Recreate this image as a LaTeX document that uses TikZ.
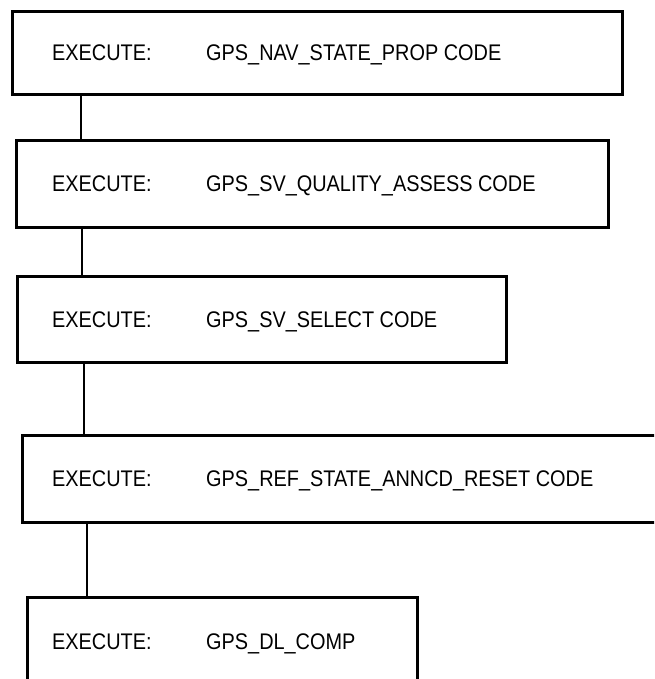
\documentclass[tikz,border=0pt]{standalone}
\usepackage{fontspec}
\setmainfont{Liberation Sans}[FakeStretch=0.88]
\usepackage{tikz}

\begin{document}
\begin{tikzpicture}[x=1pt, y=-1pt,
  execbox/.style={rectangle, draw=black, fill=white, line width=2.8pt, anchor=north west, inner sep=0pt},
  steptext/.style={anchor=base west, inner sep=0pt, yshift=-8pt, font=\fontsize{22.6}{26}\selectfont},
  link/.style={draw=black, line width=2.3pt}]
\clip (0,0) rectangle (654,679);
\fill[white] (0,0) rectangle (654,679);
\coordinate (lblx) at (52,0);
\coordinate (namex) at (206,0);

\node[execbox, minimum width=610pt, minimum height=83pt] (nav) at (11,10) {};
\node[execbox, minimum width=592pt, minimum height=87pt] (quality) at (15,139) {};
\node[execbox, minimum width=489pt, minimum height=86pt] (select) at (16,275) {};
\node[execbox, minimum width=659pt, minimum height=87pt] (reset) at (21,434) {};
\node[execbox, minimum width=390pt, minimum height=88pt] (dlcomp) at (26,596) {};

\node[steptext] (navlbl) at (nav.west -| lblx) {EXECUTE:};
\node[steptext] (navname) at (nav.west -| namex) {GPS\_NAV\_STATE\_PROP CODE};
\node[steptext] (qualitylbl) at (quality.west -| lblx) {EXECUTE:};
\node[steptext] (qualityname) at (quality.west -| namex) {GPS\_SV\_QUALITY\_ASSESS CODE};
\node[steptext] (selectlbl) at (select.west -| lblx) {EXECUTE:};
\node[steptext] (selectname) at (select.west -| namex) {GPS\_SV\_SELECT CODE};
\node[steptext] (resetlbl) at (reset.west -| lblx) {EXECUTE:};
\node[steptext] (resetname) at (reset.west -| namex) {GPS\_REF\_STATE\_ANNCD\_RESET CODE};
\node[steptext] (dlcomplbl) at (dlcomp.west -| lblx) {EXECUTE:};
\node[steptext] (dlcompname) at (dlcomp.west -| namex) {GPS\_DL\_COMP};

\foreach \boxa/\boxb/\xx in {nav/quality/81, quality/select/82, select/reset/84, reset/dlcomp/87}{
  \coordinate (linkx) at (\xx,0);
  \draw[link] (\boxa.south -| linkx) -- (\boxb.north -| linkx);
}
\end{tikzpicture}
\end{document}
